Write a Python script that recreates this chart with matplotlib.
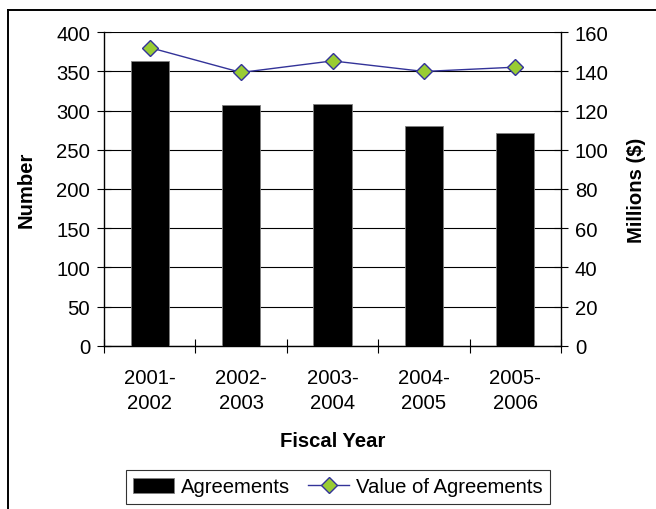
## agreements per fiscal year, count bars + value line on twin axis

import matplotlib
matplotlib.use('Agg')
import matplotlib.pyplot as plt
from matplotlib.lines import Line2D

plt.rcParams['font.family'] = ['Liberation Sans', 'DejaVu Sans']

years = ['2001-\n2002', '2002-\n2003', '2003-\n2004', '2004-\n2005', '2005-\n2006']
agreements = [363, 307, 309, 280, 272]
value_millions = [152.2, 139.5, 145.4, 140.0, 142.2]

W, H = 656, 510
fs = 14.6
fig = plt.figure(figsize=(W / 100, H / 100), dpi=100)

# outer chart frame (only left and top edges show in the crop)
fig.add_artist(Line2D([8 / W, 8 / W], [0, 1 - 11 / H], color='black', lw=1.4))
fig.add_artist(Line2D([8 / W, 1], [1 - 11 / H, 1 - 11 / H], color='black', lw=1.4))

ax = fig.add_axes([104 / W, 1 - 346.7 / H, (561 - 104) / W, (346.7 - 33.3) / H])
x = list(range(len(years)))

ax.bar(x, agreements, width=0.42, color='black', edgecolor='#7f7f7f', lw=0.6, zorder=3,
       label='Agreements')
ax.set_xlim(-0.5, len(years) - 0.5)
ax.set_ylim(0, 400)
ax.set_yticks(range(0, 401, 50))
ax.yaxis.grid(True, color='black', lw=0.8, zorder=0)
ax.set_axisbelow(True)

ax.set_xticks(x)
ax.set_xticklabels(years, fontsize=fs, linespacing=1.4)
ax.set_xticks([i - 0.5 for i in range(len(years) + 1)], minor=True)
ax.tick_params(axis='x', which='major', length=0, pad=16)
ax.tick_params(axis='x', which='minor', direction='inout', length=10, width=0.8)
ax.tick_params(axis='y', direction='inout', length=10, width=0.8, labelsize=fs, pad=5)

for s in ['top', 'right']:
    ax.spines[s].set_visible(False)
ax.spines['left'].set_linewidth(1)
ax.spines['bottom'].set_linewidth(1)

ax.set_ylabel('Number', fontsize=fs, fontweight='bold')
ax.yaxis.set_label_coords(-0.150, 0.5)
ax.set_xlabel('Fiscal Year', fontsize=fs, fontweight='bold')
ax.xaxis.set_label_coords(0.5, -0.272)

ax2 = ax.twinx()
ax2.plot(x, value_millions, color='#333399', lw=1, marker='D', markersize=8.5,
         markerfacecolor='#99CC33', markeredgecolor='#333399', markeredgewidth=1,
         zorder=4, label='Value of Agreements')
ax2.set_ylim(0, 160)
ax2.set_yticks(range(0, 161, 20))
ax2.tick_params(axis='y', direction='inout', length=10, width=0.8, labelsize=fs, pad=5)
for s in ['top', 'left', 'bottom']:
    ax2.spines[s].set_visible(False)
ax2.spines['right'].set_linewidth(1)
ax2.set_ylabel('Millions ($)', fontsize=fs, fontweight='bold')
ax2.yaxis.set_label_coords(1.144, 0.5)

h1, l1 = ax.get_legend_handles_labels()
h2, l2 = ax2.get_legend_handles_labels()
leg = fig.legend(h1 + h2, l1 + l2, loc='center', bbox_to_anchor=(338 / W, 1 - 488 / H),
                 ncol=2, fontsize=fs, frameon=True, fancybox=False, handlelength=2.0,
                 handleheight=0.75, columnspacing=0.9, handletextpad=0.35, borderpad=0.35,
                 borderaxespad=0)
leg.get_frame().set_edgecolor('black')
leg.get_frame().set_linewidth(0.8)

fig.savefig('out.png', dpi=100)
